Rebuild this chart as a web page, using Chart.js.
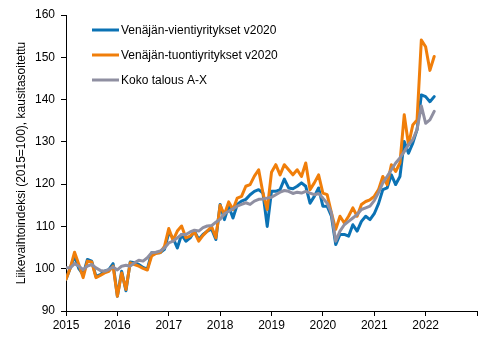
<!DOCTYPE html>
<html>
<head>
<meta charset="utf-8">
<script src="https://cdn.jsdelivr.net/npm/chart.js@4/dist/chart.umd.min.js"></script>
<style>
  body { margin: 0; background: #fff; }
  canvas { display: block; }
</style>
</head>
<body>
<canvas id="chart" width="491" height="340"></canvas>
<script>
// Monthly index values, Jan 2015 - Mar 2022
const vienti = [
  97.5, 100.2, 103.0, 100.0, 98.6, 102.2, 101.8, 98.2, 98.6, 99.4, 99.8, 101.2,
  93.5, 99.4, 94.8, 101.6, 101.4, 101.0, 100.3, 99.9, 103.8, 103.8, 103.8, 104.6,
  108.5, 107.3, 104.9, 108.1, 106.5, 107.3, 108.9, 106.9, 108.1, 108.9, 109.4, 106.9,
  115.2, 111.6, 114.8, 112.0, 115.2, 116.0, 116.4, 117.5, 118.3, 118.7, 117.9, 110.0,
  118.3, 118.3, 118.7, 121.2, 119.1, 118.9, 119.5, 120.3, 119.5, 115.5, 117.1, 119.1,
  114.8, 114.8, 112.4, 105.7, 108.1, 108.1, 107.7, 110.4, 108.9, 111.2, 112.4, 111.6,
  113.0, 115.4, 118.7, 119.1, 122.2, 119.9, 121.8, 130.1, 127.3, 129.7, 132.9, 141.1,
  140.7, 139.5, 140.7
];
const tuonti = [
  97.5, 100.2, 103.9, 101.0, 97.9, 101.8, 101.6, 97.9, 98.4, 99.0, 99.4, 100.6,
  93.5, 99.0, 95.1, 101.4, 101.0, 100.6, 100.1, 99.7, 103.0, 103.6, 103.8, 105.3,
  109.5, 106.7, 108.9, 110.1, 107.3, 107.7, 108.7, 106.5, 107.9, 108.9, 110.0, 107.3,
  115.0, 112.8, 115.8, 114.0, 116.7, 117.1, 119.5, 119.9, 121.9, 123.4, 117.9, 114.0,
  122.8, 124.6, 122.2, 124.6, 123.4, 122.2, 123.4, 121.8, 125.0, 118.7, 120.3, 122.2,
  117.9, 117.5, 113.2, 109.3, 112.4, 110.8, 112.4, 114.4, 112.4, 115.2, 115.9, 116.3,
  117.1, 118.7, 121.8, 119.9, 124.6, 123.0, 125.0, 136.4, 129.3, 134.0, 135.2, 154.1,
  152.5, 146.9, 150.2
];
const kokoTalous = [
  100.2, 100.2, 101.2, 100.6, 99.8, 100.6, 101.0, 100.2, 99.6, 99.4, 99.8, 100.4,
  99.7, 100.6, 100.8, 100.6, 101.4, 102.0, 101.8, 102.6, 103.8, 103.9, 104.2, 104.9,
  106.1, 106.5, 107.3, 108.1, 108.1, 108.7, 109.1, 108.9, 109.7, 110.1, 110.2, 111.0,
  111.7, 113.0, 113.6, 114.2, 114.8, 115.2, 115.6, 115.2, 116.0, 116.4, 116.5, 116.7,
  116.9, 117.5, 118.1, 118.5, 118.3, 117.8, 118.1, 117.9, 118.3, 117.9, 117.5, 117.8,
  116.7, 115.5, 113.2, 106.5, 108.9, 110.4, 111.2, 112.0, 112.8, 114.0, 114.4, 114.8,
  116.1, 118.0, 120.3, 121.8, 123.4, 125.0, 126.2, 127.7, 129.3, 130.5, 132.9, 138.5,
  134.4, 135.2, 137.2
];
const yearLabels = ['2015', '2016', '2017', '2018', '2019', '2020', '2021', '2022', ''];
const seriesNames = ['Venäjän-vientiyritykset v2020', 'Venäjän-tuontiyritykset v2020', 'Koko talous A-X'];
const seriesColors = ['#0b72b4', '#f07e0a', '#8f8fa1'];

const FONT = 'Liberation Sans, Arial, sans-serif';

// month index on x, value on y
function toPoints(values) {
  return values.map((v, i) => ({ x: i, y: v }));
}

// legend box drawn inside the plot, one row per series
const insideLegend = {
  id: 'insideLegend',
  afterDraw(chart) {
    const ctx = chart.ctx;
    const area = chart.chartArea;
    ctx.save();
    ctx.font = '12px ' + FONT;
    ctx.textBaseline = 'middle';
    chart.data.datasets.forEach((ds, i) => {
      const y = area.top + 15 + i * 25;
      const x = area.left + 26;
      ctx.strokeStyle = ds.borderColor;
      ctx.lineWidth = 3;
      ctx.beginPath();
      ctx.moveTo(x, y);
      ctx.lineTo(x + 27, y);
      ctx.stroke();
      ctx.fillStyle = '#000';
      ctx.fillText(ds.label, x + 29, y + 1);
    });
    ctx.restore();
  }
};

function makeDataset(i, values, order) {
  return {
    label: seriesNames[i],
    data: toPoints(values),
    borderColor: seriesColors[i],
    backgroundColor: seriesColors[i],
    borderWidth: 3,
    pointRadius: 0,
    tension: 0,
    fill: false,
    borderJoinStyle: 'round',
    borderCapStyle: 'round',
    order: order
  };
}

const ctx = document.getElementById('chart').getContext('2d');
const chart = new Chart(ctx, {
  type: 'line',
  data: {
    datasets: [
      makeDataset(0, vienti, 3),
      makeDataset(1, tuonti, 2),
      makeDataset(2, kokoTalous, 1)
    ]
  },
  options: {
    responsive: false,
    animation: false,
    layout: { padding: { left: 10, top: 15, right: 14, bottom: 0 } },
    plugins: {
      legend: { display: false },
      tooltip: { enabled: false }
    },
    scales: {
      x: {
        type: 'linear',
        min: 0,
        max: 96,
        afterFit: (scale) => { scale.height = 29; },
        ticks: {
          stepSize: 12,
          autoSkip: false,
          maxRotation: 0,
          padding: 2,
          color: '#000',
          font: { family: FONT, size: 12 },
          callback: (v) => yearLabels[v / 12]
        },
        grid: { drawOnChartArea: false, drawTicks: true, tickLength: 5, color: '#000' },
        border: { display: true, color: '#000', width: 1 }
      },
      y: {
        min: 90,
        max: 160,
        afterFit: (scale) => { scale.width = 56; },
        ticks: {
          stepSize: 10,
          padding: 6,
          color: '#000',
          font: { family: FONT, size: 12 }
        },
        title: {
          display: true,
          text: 'Liikevaihtoindeksi (2015=100), kausitasoitettu',
          color: '#000',
          font: { family: FONT, size: 12 },
          padding: { top: 4, bottom: 0 }
        },
        grid: { drawOnChartArea: false, drawTicks: true, tickLength: 5, color: '#000' },
        border: { display: true, color: '#000', width: 1 }
      }
    }
  },
  plugins: [insideLegend]
});
</script>
</body>
</html>
